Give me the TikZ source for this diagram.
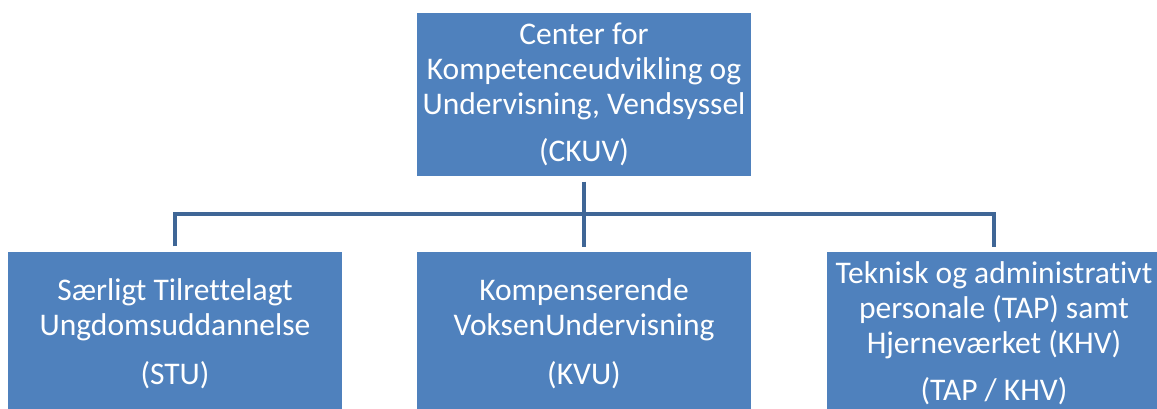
\documentclass[tikz,border=0pt]{standalone}
\usepackage{fontspec}
\setmainfont{Carlito}[Ligatures=NoCommon]
\definecolor{boxfill}{HTML}{4F81BD}
\definecolor{connc}{HTML}{3F6696}
\begin{document}
\begin{tikzpicture}[x=1pt,y=-1pt,
  box/.style={fill=boxfill, draw=none, inner sep=0pt, minimum width=334pt, minimum height=163pt,
    text=white, align=center, font=\fontsize{31.5}{35}\selectfont},
  conn/.style={draw=connc, line width=4pt, shorten <=5.5pt, shorten >=5pt, miter limit=10}]
\useasboundingbox (0,0) rectangle (1157,408);
\clip (0,0) rectangle (1157,408);
\node[box] (top) at (584,94.5) {Center for\\Kompetenceudvikling og\\Undervisning, Vendsyssel\\[12pt](CKUV)};
\node[box] (stu) at (175,333.5) {Særligt Tilrettelagt\\Ungdomsuddannelse\\[14pt](STU)};
\node[box] (kvu) at (584,333.5) {Kompenserende\\VoksenUndervisning\\[14pt](KVU)};
\node[box] (tap) at (994,333.5) {Teknisk og administrativt\\personale (TAP) samt\\Hjerneværket (KHV)\\[12pt](TAP / KHV)};
\coordinate (bar) at (584,214);
\draw[conn] (top.south) -- (kvu.north);
\draw[conn] (stu.north) |- (bar) -| (tap.north);
\end{tikzpicture}
\end{document}
